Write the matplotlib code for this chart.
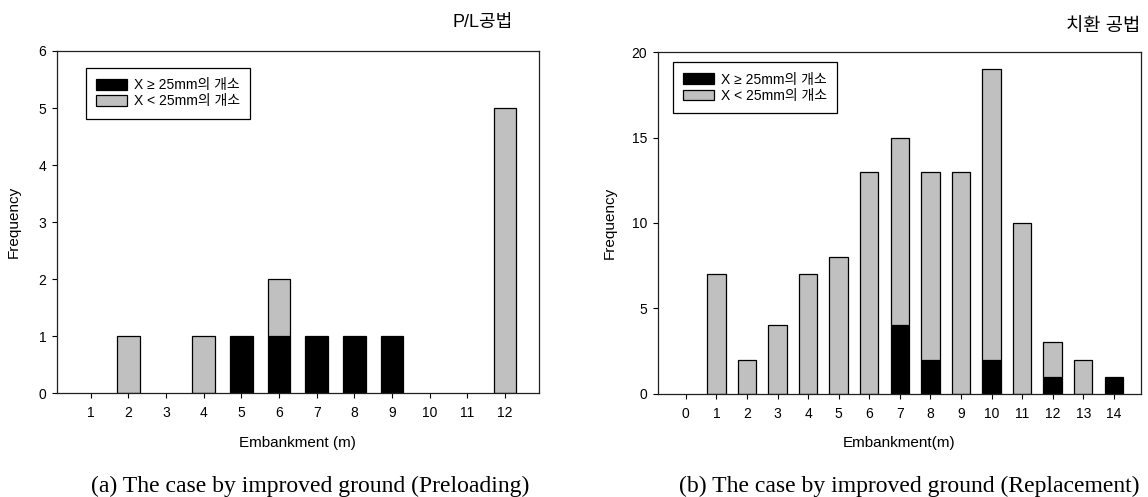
import matplotlib
matplotlib.use("Agg")
import matplotlib.pyplot as plt
import numpy as np

FAM = ['Liberation Sans', 'Noto Sans CJK KR', 'DejaVu Sans']
plt.rcParams['font.family'] = FAM

# (a) Preloading
pl_x = [1, 2, 3, 4, 5, 6, 7, 8, 9, 10, 11, 12]
pl_ge25 = [0, 0, 0, 0, 1, 1, 1, 1, 1, 0, 0, 0]
pl_lt25 = [0, 1, 0, 1, 0, 1, 0, 0, 0, 0, 0, 5]

# (b) Replacement
rp_x = [0, 1, 2, 3, 4, 5, 6, 7, 8, 9, 10, 11, 12, 13, 14]
rp_ge25 = [0, 0, 0, 0, 0, 0, 0, 4, 2, 0, 2, 0, 1, 0, 1]
rp_lt25 = [0, 7, 2, 4, 7, 8, 13, 11, 11, 13, 17, 10, 2, 2, 0]

lab_ge = 'X ≥ 25mm의 개소'
lab_lt = 'X < 25mm의 개소'

fig = plt.figure(figsize=(11.48, 4.97), dpi=100)
W, H = 1148, 497

def axes_px(l, t, r, b):
    return fig.add_axes([l / W, 1 - b / H, (r - l) / W, (b - t) / H])

ax1 = axes_px(56.7, 51, 539, 393.3)
ax2 = axes_px(657.7, 52.3, 1141.3, 393.7)

def draw(ax, x, ge, lt, xlim, ylim, yticks, xlabel, ylpad):
    x = np.array(x); ge = np.array(ge); lt = np.array(lt)
    m1 = ge > 0
    m2 = lt > 0
    ax.bar(x[m1], ge[m1], width=0.6, color='black', edgecolor='black', linewidth=0.9, label=lab_ge)
    ax.bar(x[m2], lt[m2], bottom=ge[m2], width=0.6, color='#c0c0c0', edgecolor='black', linewidth=0.9, label=lab_lt)
    ax.set_xlim(*xlim)
    ax.set_ylim(*ylim)
    ax.set_xticks(x)
    ax.set_yticks(yticks)
    ax.tick_params(axis='x', direction='out', length=3.5, width=0.8, labelsize=10, pad=6)
    ax.tick_params(axis='y', direction='out', length=3.5, width=0.8, labelsize=10, pad=4)
    ax.tick_params(top=False, right=False)
    for s in ax.spines.values():
        s.set_linewidth(0.9)
        s.set_color('#202020')
    ax.set_xlabel(xlabel, fontsize=11, labelpad=11)
    ax.set_ylabel('Frequency', fontsize=11, labelpad=ylpad)

draw(ax1, pl_x, pl_ge25, pl_lt25, (0.1, 12.9), (0, 6), range(0, 7), 'Embankment (m)', 12.5)
draw(ax2, rp_x, rp_ge25, rp_lt25, (-0.92, 14.9), (0, 20), range(0, 21, 5), 'Embankment(m)', 10.5)

for ax, loc in ((ax1, (0.0607, 0.951)), (ax2, (0.031, 0.971))):
    leg = ax.legend(loc='upper left', bbox_to_anchor=loc, fontsize=10, frameon=True,
                    fancybox=False, edgecolor='black', handlelength=2.2, handleheight=0.8,
                    borderpad=0.75, labelspacing=0.15, handletextpad=0.5, borderaxespad=0)
    leg.get_frame().set_linewidth(0.9)
    leg.get_frame().set_alpha(None)
    leg.get_frame().set_facecolor('white')

fig.text(513 / W, 1 - 23 / H, 'P/L공법', ha='right', va='center', fontsize=13)
fig.text(1140 / W, 1 - 27 / H, '치환 공법', ha='right', va='center', fontsize=13.5)

fig.text(310 / W, 1 - 486 / H, '(a) The case by improved ground (Preloading)', ha='center', va='center',
         fontsize=17, family='Liberation Serif')
fig.text(909.5 / W, 1 - 486 / H, '(b) The case by improved ground (Replacement)', ha='center', va='center',
         fontsize=17, family='Liberation Serif')

fig.savefig('out.png', dpi=100)
